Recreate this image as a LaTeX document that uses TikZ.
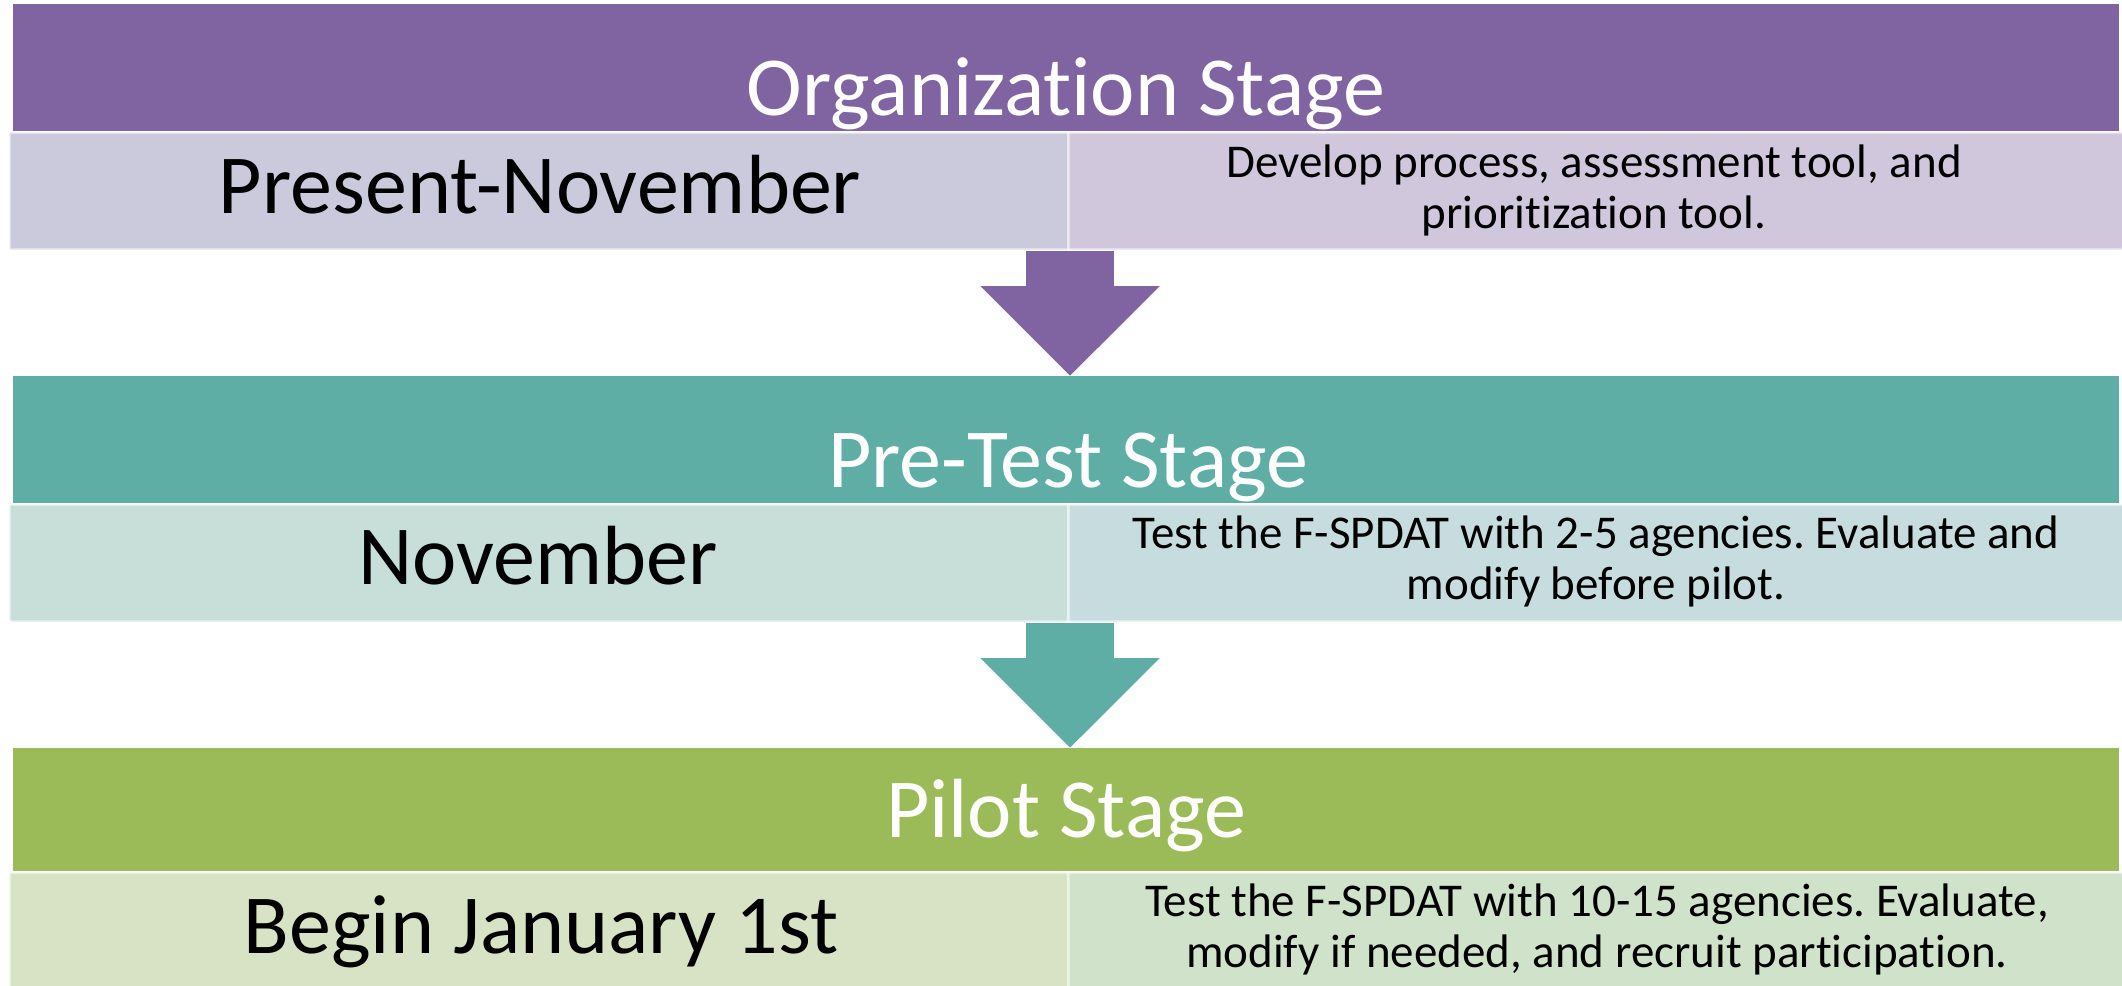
\documentclass[tikz,border=0pt]{standalone}
\usepackage{fontspec}
\setmainfont{Carlito}[Ligatures=NoCommon]
\usetikzlibrary{arrows.meta}
\frenchspacing

\definecolor{orghead}{RGB}{128,100,162}
\definecolor{orgleft}{RGB}{203,202,220}
\definecolor{orgright}{RGB}{208,199,220}
\definecolor{prehead}{RGB}{94,174,166}
\definecolor{preleft}{RGB}{200,222,217}
\definecolor{preright}{RGB}{199,220,222}
\definecolor{pilothead}{RGB}{155,187,89}
\definecolor{pilotleft}{RGB}{216,227,197}
\definecolor{pilotright}{RGB}{208,226,202}

\begin{document}
\begin{tikzpicture}[x=1pt, y=-1pt,
   head_style/.style={rectangle, inner sep=0pt, anchor=north west, minimum width=2106pt, minimum height=127pt},
   cell_style/.style={rectangle, inner sep=0pt, anchor=north west, rounded corners=2pt, draw=white, draw opacity=0.4, line width=3pt},
   title_style/.style={anchor=base, text=white, font=\fontsize{84}{100}\selectfont},
   when_style/.style={anchor=base, text=black, font=\fontsize{84}{100}\selectfont},
   what_style/.style={anchor=base, text=black, align=center, font=\fontsize{47}{51}\selectfont},
   arrow_style/.style={line width=88pt, -{Triangle[width=174pt, length=90pt]}}]
	  \useasboundingbox (0,0) rectangle (2122,985);

	  % stage bars
	  \node [head_style, fill=orghead] (orgbar) at (13,4) {};
	  \node [head_style, fill=prehead] (prebar) at (13,376) {};
	  \node [head_style, fill=pilothead, minimum height=123pt] (pilotbar) at (13,748) {};

	  % timing and task cells
	  \node [cell_style, fill=orgleft, minimum width=1059pt, minimum height=117pt] (orgwhenbox) at (8,131) {};
	  \node [cell_style, fill=orgright, minimum width=1055pt, minimum height=117pt] (orgwhatbox) at (1067,131) {};
	  \node [cell_style, fill=preleft, minimum width=1059pt, minimum height=117pt] (prewhenbox) at (8,503) {};
	  \node [cell_style, fill=preright, minimum width=1055pt, minimum height=117pt] (prewhatbox) at (1067,503) {};
	  \node [cell_style, fill=pilotleft, minimum width=1059pt, minimum height=116pt] (pilotwhenbox) at (8,871) {};
	  \node [cell_style, fill=pilotright, minimum width=1055pt, minimum height=116pt] (pilotwhatbox) at (1067,871) {};

	  \node [title_style] (orgtitle) at (1066,115) {Organization Stage};
	  \node [title_style] (pretitle) at (1068,487) {Pre-Test Stage};
	  \node [title_style] (pilottitle) at (1066,837) {Pilot Stage};

	  \node [when_style] (orgwhen) at (540,213) {Present-November};
	  \node [when_style] (prewhen) at (538,584) {November};
	  \node [when_style] (pilotwhen) at (541,953) {Begin January 1st};

	  \node [what_style] (orgwhat) at (1594,228) {Develop process, assessment tool, and\\prioritization tool.};
	  \node [what_style] (prewhat) at (1596,599) {Test the F-SPDAT with 2-5 agencies. Evaluate and\\modify before pilot.};
	  \node [what_style] (pilotwhat) at (1597,967) {Test the F-SPDAT with 10-15 agencies. Evaluate,\\modify if needed, and recruit participation.};

	  \foreach \from/\to/\col in {orgwhenbox/prebar/orghead, prewhenbox/pilotbar/prehead}
	    \draw [arrow_style, \col] (\from.south east) -- (\from.south east |- \to.north);

	\end{tikzpicture}
\end{document}
